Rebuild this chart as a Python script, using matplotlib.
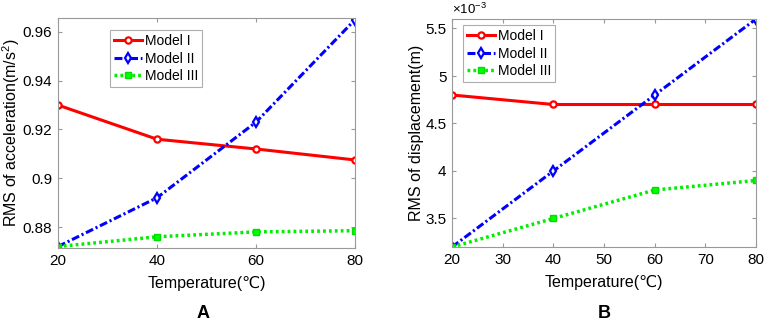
import matplotlib
matplotlib.use("Agg")
import matplotlib.pyplot as plt

plt.rcParams['font.family'] = ['Liberation Sans', 'DejaVu Sans']
plt.rcParams['mathtext.fontset'] = 'custom'
plt.rcParams['mathtext.rm'] = 'Liberation Sans'

temps_a = [20, 40, 60, 80]
acc_model1 = [0.930, 0.916, 0.912, 0.9075]
acc_model2 = [0.872, 0.892, 0.923, 0.965]
acc_model3 = [0.872, 0.876, 0.878, 0.8785]

temps_b = [20, 40, 60, 80]
disp_model1 = [4.8, 4.7, 4.7, 4.7]
disp_model2 = [3.2, 4.0, 4.8, 5.6]
disp_model3 = [3.2, 3.5, 3.8, 3.9]

labels = ["Model I", "Model II", "Model III"]

fig = plt.figure(figsize=(7.66, 3.25), dpi=100)
W, H = 766, 325
axA = fig.add_axes([58 / W, 1 - 248 / H, (355 - 58) / W, (248 - 18) / H])
axB = fig.add_axes([452 / W, 1 - 247 / H, (756 - 452) / W, (247 - 19) / H])

def style(ax):
    for s in ax.spines.values():
        s.set_color('#999999')
        s.set_linewidth(0.8)
    ax.tick_params(direction='in', length=3, color='#999999', labelsize=11,
                   labelcolor='black', top=True, right=True, labeltop=False,
                   labelright=False, pad=4)

def draw(ax, x, ys):
    ax.plot(x, ys[0], '-', color='red', lw=2.2, marker='o', ms=4.5,
            mfc='white', mec='red', mew=1.6, label=labels[0])
    ax.plot(x, ys[1], '-.', color='blue', lw=2.2, marker='d', ms=5,
            mfc='white', mec='blue', mew=1.6, dashes=(2.6, 0.9, 0.7, 0.9), label=labels[1])
    ax.plot(x, ys[2], ':', color='#00ee00', lw=2.5, marker='s', ms=4.5,
            mfc='#00ff00', mec='#00dd00', mew=1.0, dashes=(0.8, 0.9), label=labels[2])

draw(axA, temps_a, [acc_model1, acc_model2, acc_model3])
axA.set_xlim(20, 80)
axA.set_ylim(0.8714, 0.9657)
axA.set_xticks([20, 40, 60, 80])
axA.set_yticks([0.88, 0.9, 0.92, 0.94, 0.96])
axA.set_yticklabels(['0.88', '0.9', '0.92', '0.94', '0.96'])
axA.set_xlabel('Temperature(℃)', fontsize=11.5, labelpad=6)
axA.set_ylabel('RMS of acceleration(m/s$^2$)', fontsize=11.5)
axA.yaxis.set_label_coords(-36 / 297, 0.5)
style(axA)
legA = axA.legend(loc='upper left', bbox_to_anchor=(52 / 297, 1 - 12 / 230), fontsize=10,
                  frameon=True, fancybox=False, edgecolor='#999999', handlelength=2.0,
                  borderpad=0.3, labelspacing=0.25, handletextpad=0.2, borderaxespad=0)
legA.get_frame().set_linewidth(0.8)

draw(axB, temps_b, [disp_model1, disp_model2, disp_model3])
axB.set_xlim(20, 80)
axB.set_ylim(3.2, 5.6)
axB.set_xticks([20, 30, 40, 50, 60, 70, 80])
axB.set_yticks([3.5, 4, 4.5, 5, 5.5])
axB.set_yticklabels(['3.5', '4', '4.5', '5', '5.5'])
axB.set_xlabel('Temperature(℃)', fontsize=11.5, labelpad=6)
axB.set_ylabel('RMS of displacement(m)', fontsize=11.5)
axB.yaxis.set_label_coords(-28 / 304, 0.5)
style(axB)
axB.text(0.0, 1.01, r'$\times10^{-3}$', transform=axB.transAxes, fontsize=9.5,
         ha='left', va='bottom')
legB = axB.legend(loc='upper left', bbox_to_anchor=(11 / 304, 1 - 6 / 228), fontsize=10,
                  frameon=True, fancybox=False, edgecolor='#999999', handlelength=2.0,
                  borderpad=0.3, labelspacing=0.25, handletextpad=0.2, borderaxespad=0)
legB.get_frame().set_linewidth(0.8)

fig.text(203 / W, 1 - 313 / H, 'A', fontsize=13, fontweight='bold', ha='center', va='center')
fig.text(604 / W, 1 - 313 / H, 'B', fontsize=13, fontweight='bold', ha='center', va='center')

fig.savefig('out.png', dpi=100)
